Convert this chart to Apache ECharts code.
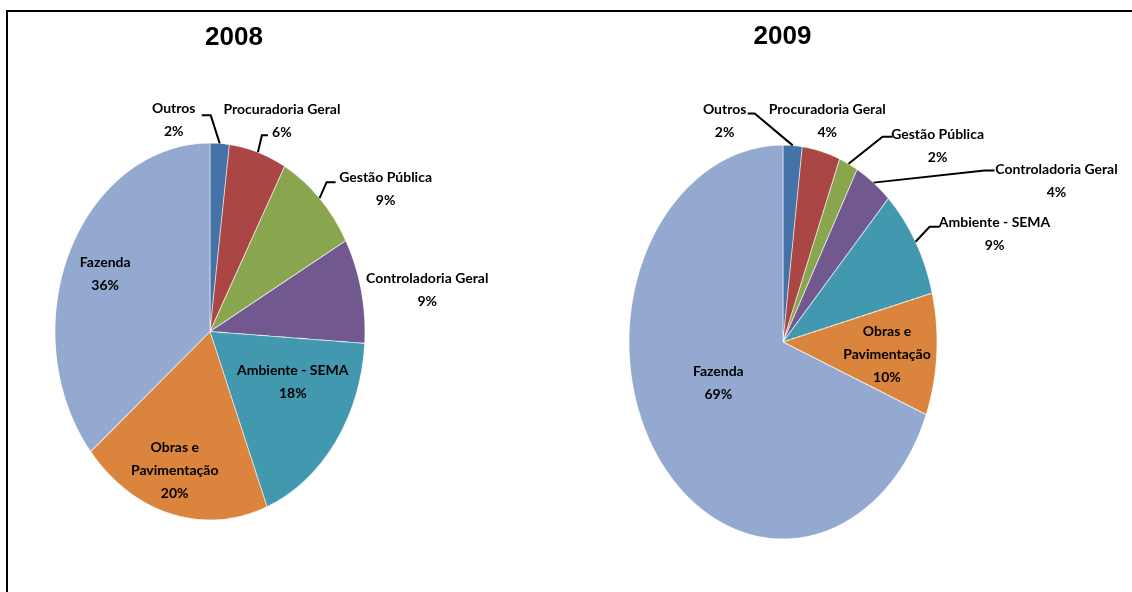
<!DOCTYPE html>
<html><head><meta charset="utf-8">
<script src="https://cdn.jsdelivr.net/npm/echarts@6/dist/echarts.min.js"></script>
<style>
html,body{margin:0;padding:0;background:#fff;}
#wrap{position:relative;width:1132px;height:592px;overflow:hidden;background:#fff;}
.layer{position:absolute;left:0;top:0;width:1132px;height:592px;}
</style></head>
<body><div id="wrap">
<div id="pie2008" class="layer"></div>
<div id="pie2009" class="layer"></div>
<div id="overlay" class="layer"></div>
</div>
<script>
// ---- data ----
const categories = ['Outros', 'Procuradoria Geral', 'Gestão Pública', 'Controladoria Geral', 'Ambiente - SEMA', 'Obras e Pavimentação', 'Fazenda'];
const values2008 = [2, 6, 9, 9, 18, 20, 36];
const values2009 = [2, 4, 2, 4, 9, 10, 69];
const years = ['2008', '2009'];

// ---- styling / layout ----
const palette = ['#4572A7', '#AA4643', '#89A54E', '#71588F', '#4198AF', '#DB843D', '#93A9CF'];
const geom = [
  {cx: 210, cy: 331.5, r: 155, k: 188.5 / 155, titleX: 234, titleY: 37.5},
  {cx: 783, cy: 342, r: 154, k: 197 / 154, titleX: 782.5, titleY: 36.5}
];
// label placement relative to the slice's outer edge point (outside) or along the mid angle (inside)
const labelCfg = [
  [
    {dx: -46, dy: -23, line: [[-9, -28], [-18, -28]]},
    {dx: 24, dy: -31, line: [[4, -17], [10, -17]]},
    {dx: 66, dy: -9, line: [[7, -16], [16, -16]]},
    {dx: 66, dy: 0},
    {inside: true, f: 0.62, dx: 5, dy: -18},
    {inside: true, f: 0.76, dx: -6, dy: 0},
    {inside: true, f: 0.74, dx: -1, dy: 2}
  ],
  [
    {dx: -68, dy: -24, line: [[-38, -32], [-45, -32]]},
    {dx: 6, dy: -30},
    {dx: 89, dy: -18, line: [[34, -27], [44, -27]]},
    {dx: 183, dy: -2, line: [[111, -12], [121, -12]]},
    {dx: 79, dy: -8, line: [[14, -15], [24, -15]]},
    {inside: true, f: 0.67, dx: 1, dy: 4},
    {inside: true, f: 0.5, dx: -1, dy: -14}
  ]
];

const allValues = [values2008, values2009];

// ---- elliptical pies (circle pie stretched vertically) ----
function makePie(el, values, g) {
  el.style.transformOrigin = g.cx + 'px ' + g.cy + 'px';
  el.style.transform = 'scaleY(' + g.k + ')';
  const chart = echarts.init(el, null, {renderer: 'canvas', devicePixelRatio: 2});
  chart.setOption({
    animation: false,
    color: palette,
    series: [{
      type: 'pie', center: [g.cx, g.cy], radius: g.r, startAngle: 90, clockwise: true,
      silent: true, label: {show: false}, labelLine: {show: false},
      itemStyle: {borderColor: 'rgba(255,255,255,0.75)', borderWidth: 0.8},
      data: categories.map((n, i) => ({name: n, value: values[i]}))
    }]
  });
}
makePie(document.getElementById('pie2008'), values2008, geom[0]);
makePie(document.getElementById('pie2009'), values2009, geom[1]);

// ---- overlay: titles, frame and labels ----
const overlay = echarts.init(document.getElementById('overlay'), null, {renderer: 'canvas'});
const labelSeries = allValues.map((vals, s) => {
  const g = geom[s];
  const total = vals.reduce((a, b) => a + b, 0);
  const cum = [];
  let acc = 0;
  vals.forEach(v => { cum.push(acc); acc += v; });
  return {
    type: 'pie', center: [g.cx, g.cy], radius: g.r, startAngle: 90, clockwise: true,
    silent: true, avoidLabelOverlap: false, percentPrecision: 0,
    itemStyle: {color: 'rgba(0,0,0,0)', borderWidth: 0},
    label: {
      show: true,
      formatter: p => p.name.replace('Obras e ', 'Obras e\n') + '\n' + p.percent + '%',
      fontFamily: 'Lato', fontWeight: 'bold', fontSize: 14, lineHeight: 23, color: '#000'
    },
    labelLine: {show: true, lineStyle: {color: '#000', width: 2}},
    labelLayout: function (params) {
      const i = params.dataIndex;
      const mid = (cum[i] + vals[i] / 2) / total * 2 * Math.PI;
      const sx = Math.sin(mid), sy = -Math.cos(mid);
      const c = labelCfg[s][i];
      if (c.inside) {
        return {
          x: g.cx + sx * g.r * c.f + c.dx,
          y: g.cy + sy * g.r * g.k * c.f + c.dy,
          align: 'center', verticalAlign: 'middle'
        };
      }
      const ax = g.cx + sx * g.r, ay = g.cy + sy * g.r * g.k;
      const res = {x: ax + c.dx, y: ay + c.dy, align: 'center', verticalAlign: 'middle'};
      if (c.line) {
        res.labelLinePoints = [[ax, ay], [ax + c.line[0][0], ay + c.line[0][1]], [ax + c.line[1][0], ay + c.line[1][1]]];
      }
      return res;
    },
    data: categories.map((n, i) => {
      const c = labelCfg[s][i];
      return {
        name: n, value: vals[i],
        label: {position: c.inside ? 'inside' : 'outside'},
        labelLine: {show: !!c.line}
      };
    })
  };
});

overlay.setOption({
  animation: false,
  graphic: [
    {type: 'polyline', shape: {points: [[7, 592], [7, 11], [1132, 11]]}, style: {stroke: '#000', lineWidth: 2, fill: null}},
    ...years.map((y, s) => ({
      type: 'text', x: geom[s].titleX, y: geom[s].titleY,
      style: {text: y, font: 'bold 26px "Liberation Sans", Arial, sans-serif', fill: '#000',
        textAlign: 'center', textVerticalAlign: 'middle', align: 'center', verticalAlign: 'middle'}
    }))
  ],
  series: labelSeries
});
</script>
</body></html>
